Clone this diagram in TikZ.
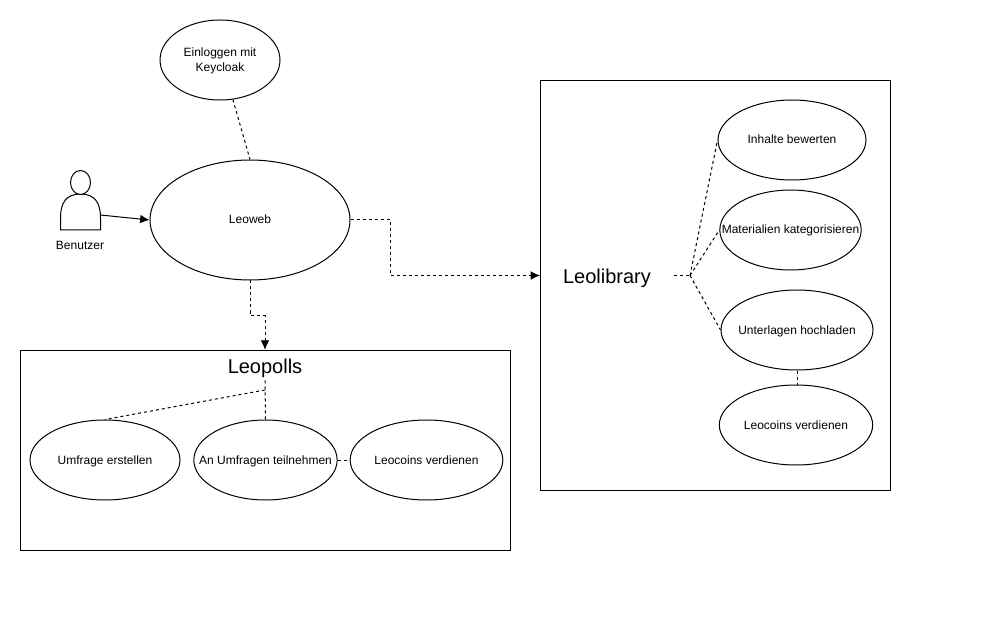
\documentclass[tikz,border=0pt]{standalone}
\usepackage{fontspec}
\setmainfont{Liberation Sans}
\usetikzlibrary{shapes.geometric,arrows.meta}
\newcommand{\caseText}[1]{\makebox[0pt]{\raisebox{-3pt}[0pt][0pt]{#1}}}
\newcommand{\bigText}[1]{\makebox[0pt]{\raisebox{-6.15pt}[0pt][0pt]{#1}}}
\tikzset{
  usecase/.style={draw=black,ellipse,line width=0.75pt,inner sep=0pt,minimum height=60pt,font=\fontsize{9}{11.25}\selectfont,align=center,fill=white},
  frame/.style={draw=black,line width=0.75pt,fill=white},
  biglabel/.style={font=\fontsize{15}{18}\selectfont,inner sep=0pt},
  small/.style={font=\fontsize{9}{11}\selectfont,inner sep=0pt},
  link/.style={draw=black,line width=0.75pt,dash pattern=on 2.25pt off 2.25pt},
  flow/.style={link,-{Latex[length=7pt,width=6.5pt]}},
  solidflow/.style={draw=black,line width=0.75pt,-{Latex[length=7pt,width=6.5pt]}}
}
\begin{document}
\begin{tikzpicture}[x=0.75pt,y=-0.75pt]
\useasboundingbox (0,0) rectangle (991,641);
\fill[white] (0,0) rectangle (991,641);
% frames
\node[frame,anchor=north west,minimum width=367.5pt,minimum height=150pt,inner sep=0pt] (pollsbox) at (20,350) {};
\node[frame,anchor=north west,minimum width=262.5pt,minimum height=307.5pt,inner sep=0pt] (libbox) at (540,80) {};
% labels
\node[biglabel,minimum width=60pt,minimum height=22.5pt] (polls) at (265,365) {\bigText{Leopolls}};
\node[biglabel,minimum width=100.5pt,minimum height=22.5pt] (lib) at (607,275.5) {\bigText{Leolibrary}};
% top ellipses
\node[usecase,minimum width=90pt] (key) at (220,60) {\rule{0pt}{8pt}Einloggen mit\\Keycloak};
\node[usecase,minimum width=150pt,minimum height=90pt] (web) at (250,220) {\caseText{Leoweb}};
% Leopolls ellipses
\node[usecase,minimum width=112.5pt] (create) at (105,460) {\caseText{Umfrage erstellen}};
\node[usecase,minimum width=107.5pt] (join) at (265.5,460) {\caseText{An Umfragen teilnehmen}};
\node[usecase,minimum width=114.5pt] (coinsa) at (426.5,460) {\caseText{Leocoins verdienen}};
% Leolibrary ellipses
\node[usecase,minimum width=111pt] (rate) at (792,140) {\caseText{Inhalte bewerten}};
\node[usecase,minimum width=106pt] (cat) at (790.5,230) {\caseText{Materialien kategorisieren}};
\node[usecase,minimum width=114pt] (upload) at (797,330) {\caseText{Unterlagen hochladen}};
\node[usecase,minimum width=115pt] (coinsb) at (796,425) {\caseText{Leocoins verdienen}};
% actor
\draw[line width=0.75pt,fill=white] (60.5,230) -- (60.5,218) .. controls (60.5,203) and (66,194) .. (80.5,194) .. controls (95,194) and (100.5,203) .. (100.5,218) -- (100.5,230) -- cycle;
\node[draw=black,fill=white,ellipse,line width=0.75pt,inner sep=0pt,minimum width=15pt,minimum height=18pt] (head) at (80.5,182.5) {};
\coordinate (userport) at (100.5,215);
\node[small] (user) at (80,245) {Benutzer};
% junctions
\coordinate (pollsj) at (265,390);
\coordinate (libj) at (690,275.5);
% connectors
\draw[link] (key.-72) -- (web.north);
\draw[solidflow] (userport) -- (web.west);
\draw[flow] (web.east) -- (390,220) -- (390,275.5) -- (lib.east -| libbox.west);
\draw[flow] (web.south) -- (250,315.5) -- (265,315.5) -- (polls.north);
\draw[link] (polls.south) -- (join.north);
\draw[link] (pollsj) -- (create.north);
\draw[link] (join.east) -- (coinsa.west);
\draw[link] (lib.east) -- (libj);
\draw[link] (libj) -- (rate.west);
\draw[link] (libj) -- (cat.west);
\draw[link] (libj) -- (upload.west);
\draw[link] (upload.south) -- (coinsb.north -| upload.south);
\end{tikzpicture}
\end{document}
